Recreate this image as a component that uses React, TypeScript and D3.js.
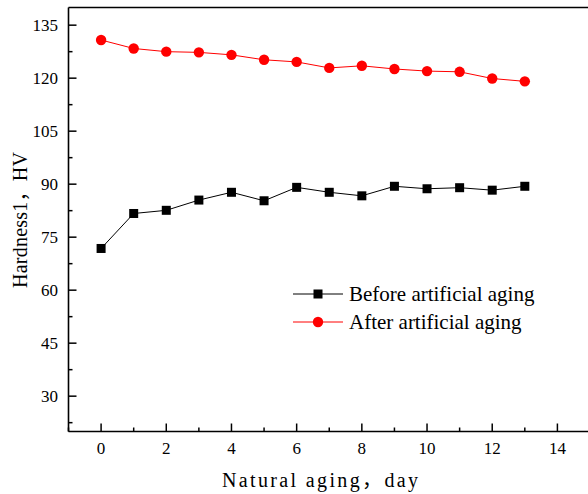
import React from "react";
import * as d3 from "d3";

const days = [0, 1, 2, 3, 4, 5, 6, 7, 8, 9, 10, 11, 12, 13];
const beforeAging = [71.8, 81.7, 82.6, 85.5, 87.7, 85.3, 89.1, 87.7, 86.7, 89.4, 88.7, 89.0, 88.3, 89.4];
const afterAging = [130.8, 128.4, 127.5, 127.3, 126.6, 125.2, 124.6, 122.9, 123.5, 122.6, 122.0, 121.8, 119.9, 119.1];
const xTicks = [0, 2, 4, 6, 8, 10, 12, 14];
const xMinorTicks = [-1, 1, 3, 5, 7, 9, 11, 13];
const yTicks = [30, 45, 60, 75, 90, 105, 120, 135];
const yMinorTicks = [22.5, 37.5, 52.5, 67.5, 82.5, 97.5, 112.5, 127.5];
const seriesNames = ["Before artificial aging", "After artificial aging"];
const xTitle = "Natural aging，day";
const yTitle = "Hardness1，HV";

const W = 588;
const H = 494;

export default function App() {
  const x = d3.scaleLinear().domain([-1, 15]).range([68.5, 590]);
  const y = d3.scaleLinear().domain([20, 140]).range([431.5, 7.5]);
  const line = d3
    .line<number>()
    .x((_, i) => x(days[i]))
    .y((d) => y(d));
  const serif = "'Liberation Serif', 'Times New Roman', serif";
  const titleFont = "'Liberation Serif', 'Noto Sans CJK SC', serif";
  const x0 = x(-1);
  const y0 = y(20);
  const yTop = y(140);
  return (
    <div style={{ position: "absolute", left: 0, top: 0 }}>
      <svg width={W} height={H} style={{ display: "block", background: "#fff" }}>
        {/* frame */}
        <line x1={x0} x2={W + 2} y1={yTop} y2={yTop} stroke="#000" strokeWidth={1.6} />
        <line x1={x0} x2={x0} y1={yTop} y2={y0} stroke="#000" strokeWidth={1.6} />
        <line x1={x0} x2={W + 2} y1={y0} y2={y0} stroke="#000" strokeWidth={1.6} />
        {/* x ticks */}
        {xTicks.map((t) => (
          <g key={"xt" + t}>
            <line x1={x(t)} x2={x(t)} y1={y0} y2={y0 - 8} stroke="#000" strokeWidth={1.5} />
            <text x={x(t)} y={454} textAnchor="middle" fontFamily={serif} fontSize={17} fill="#000">
              {t}
            </text>
          </g>
        ))}
        {xMinorTicks.map((t) => (
          <line key={"xm" + t} x1={x(t)} x2={x(t)} y1={y0} y2={y0 - 4} stroke="#000" strokeWidth={1.5} />
        ))}
        {/* y ticks */}
        {yTicks.map((t) => (
          <g key={"yt" + t}>
            <line x1={x0} x2={x0 + 8} y1={y(t)} y2={y(t)} stroke="#000" strokeWidth={1.5} />
            <text x={58} y={y(t) + 5.5} textAnchor="end" fontFamily={serif} fontSize={17} fill="#000">
              {t}
            </text>
          </g>
        ))}
        {yMinorTicks.map((t) => (
          <line key={"ym" + t} x1={x0} x2={x0 + 4} y1={y(t)} y2={y(t)} stroke="#000" strokeWidth={1.5} />
        ))}
        {/* series lines */}
        <path d={line(beforeAging) || ""} fill="none" stroke="#000" strokeWidth={1} />
        <path d={line(afterAging) || ""} fill="none" stroke="#ff0000" strokeWidth={1} />
        {beforeAging.map((v, i) => (
          <rect key={"b" + i} x={x(days[i]) - 4.5} y={y(v) - 4.5} width={9} height={9} fill="#000" />
        ))}
        {afterAging.map((v, i) => (
          <circle key={"a" + i} cx={x(days[i])} cy={y(v)} r={5.2} fill="#ff0000" />
        ))}
        {/* legend */}
        <g>
          <line x1={293} x2={343} y1={294} y2={294} stroke="#000" strokeWidth={1} />
          <rect x={318 - 4.5} y={294 - 4.5} width={9} height={9} fill="#000" />
          <text x={349} y={300.5} fontFamily={serif} fontSize={21} fill="#000">
            {seriesNames[0]}
          </text>
          <line x1={293} x2={343} y1={322} y2={322} stroke="#ff0000" strokeWidth={1} />
          <circle cx={318} cy={322} r={5.2} fill="#ff0000" />
          <text x={349} y={328.5} fontFamily={serif} fontSize={21} fill="#000">
            {seriesNames[1]}
          </text>
        </g>
        {/* axis titles */}
        <text
          x={222}
          y={487}
          fontFamily={titleFont}
          fontSize={20}
          textLength={196}
          lengthAdjust="spacing"
          fill="#000"
        >
          {xTitle}
        </text>
        <text
          transform={`translate(27,288) rotate(-90)`}
          x={0}
          y={0}
          fontFamily={titleFont}
          fontSize={20}
          textLength={136}
          lengthAdjust="spacing"
          fill="#000"
        >
          {yTitle}
        </text>
      </svg>
    </div>
  );
}
